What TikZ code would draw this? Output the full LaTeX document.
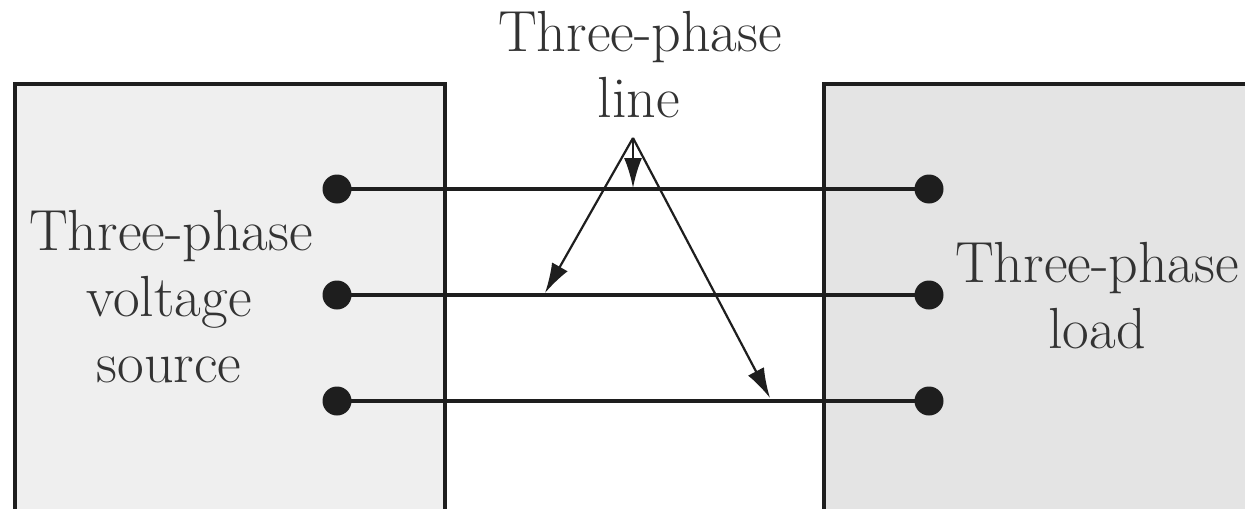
\documentclass[tikz,border=0pt]{standalone}
\usetikzlibrary{arrows.meta}
\definecolor{srcfill}{HTML}{EFEFEF}
\definecolor{loadfill}{HTML}{E4E4E4}
\definecolor{ink}{HTML}{1E1E1E}
\definecolor{txt}{HTML}{333333}
\begin{document}
\begin{tikzpicture}[x=0.5pt,y=-0.5pt,
  box/.style={draw=ink, line width=1.8pt, anchor=north west, inner sep=0pt,
    minimum width=215pt, minimum height=214pt},
  term/.style={circle, fill=ink, minimum size=14.5pt, inner sep=0pt},
  wire/.style={draw=ink, line width=1.7pt},
  ptr/.style={draw=ink, line width=1.1pt, -{Latex[length=15pt,width=9pt]}},
  lbl/.style={font=\fontsize{29}{33}\selectfont, text=txt, anchor=base, inner sep=0pt}]
\clip (0,0) rectangle (1245,508);
\fill[white] (0,0) rectangle (1245,508);
% boxes
\node[box, fill=srcfill] (src) at (13,82) {};
\node[box, fill=loadfill] (load) at (822,82) {};
% terminals
\node[term] (s1) at (337,189) {};
\node[term] (s2) at (337,295) {};
\node[term] (s3) at (337,401) {};
\node[term] (l1) at (929,189) {};
\node[term] (l2) at (929,295) {};
\node[term] (l3) at (929,401) {};
% wires
\draw[wire] (s1.center) -- (l1.center);
\draw[wire] (s2.center) -- (l2.center);
\draw[wire] (s3.center) -- (l3.center);
% labels
\node[lbl] (t1) at (640,52) {Three-phase};
\node[lbl] (t2) at (639,118) {line};
\node[lbl] (v1) at (171,250) {Three-phase};
\node[lbl] (v2) at (169,316) {voltage};
\node[lbl] (v3) at (169,382) {source};
\node[lbl] (r1) at (1097,282) {Three-phase};
\node[lbl] (r2) at (1097,348) {load};
% pointers
\coordinate (apex) at (633,138);
\coordinate (p1) at (633,188);
\coordinate (p2) at (545,293);
\coordinate (p3) at (770,398);
\draw[ptr] (apex) -- (p1);
\draw[ptr] (apex) -- (p2);
\draw[ptr] (apex) -- (p3);
\end{tikzpicture}
\end{document}
